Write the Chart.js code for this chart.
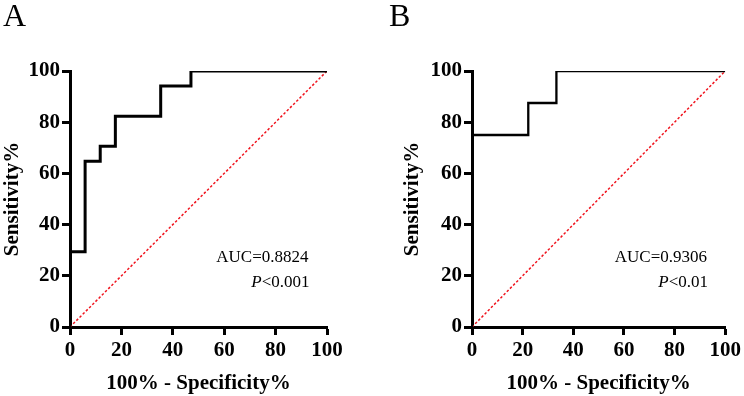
<!DOCTYPE html>
<html>
<head>
<meta charset="utf-8">
<script src="https://cdn.jsdelivr.net/npm/chart.js@4.4.0/dist/chart.umd.min.js"></script>
<style>
  html, body { margin: 0; padding: 0; background: #fff; }
  .wrap { display: flex; width: 744px; height: 396px; }
  canvas { display: block; }
</style>
</head>
<body>
<div class="wrap">
  <canvas id="rocA" width="372" height="396"></canvas>
  <canvas id="rocB" width="372" height="396"></canvas>
</div>
<script>
// ROC coordinates (100% - specificity, sensitivity)
const fprA = [0, 0, 5.88, 5.88, 11.76, 11.76, 17.65, 17.65, 35.29, 35.29, 47.06, 47.06, 100];
const tprA = [0, 29.41, 29.41, 64.71, 64.71, 70.59, 70.59, 82.35, 82.35, 94.12, 94.12, 100, 100];
const fprB = [0, 0, 22.22, 22.22, 33.33, 33.33, 100];
const tprB = [0, 75, 75, 87.5, 87.5, 100, 100];
const refLine = [0, 100];   // chance line

const axisMin = 0, axisMax = 100, axisStep = 20;
const xTitle = "100% - Specificity%";
const yTitle = "Sensitivity%";

const aucA = "AUC=0.8824", pA = "<0.001";
const aucB = "AUC=0.9306", pB = "<0.01";

const serif = "'Liberation Serif', 'Times New Roman', serif";

// panel letter + AUC / P text
const panelText = {
    id: "panelText",
    afterDraw(chart, args, opts) {
        const ctx = chart.ctx;
        const x = chart.scales.x, y = chart.scales.y;
        ctx.save();
        ctx.fillStyle = "#000";
        ctx.textBaseline = "alphabetic";
        ctx.font = "32px " + serif;
        ctx.textAlign = "left";
        ctx.fillText(opts.letter, opts.letterX, 26);

        const right = x.getPixelForValue(92.8);
        ctx.textBaseline = "middle";
        ctx.textAlign = "right";
        ctx.font = "17px " + serif;
        ctx.fillText(opts.auc, right, y.getPixelForValue(27));

        // P line, italic P
        const py = y.getPixelForValue(17.2);
        ctx.fillText(opts.p, right + 1, py);
        const w = ctx.measureText(opts.p).width;
        ctx.font = "italic 17px " + serif;
        ctx.fillText("P", right + 1 - w, py);

        ctx.restore();
    }
};

function axis(title, pad, afterFit) {
    return {
        type: "linear",
        min: axisMin,
        max: axisMax,
        ticks: {
            stepSize: axisStep,
            color: "#000",
            padding: pad,
            font: { family: serif, size: 21, weight: "bold" }
        },
        grid: {
            drawOnChartArea: false,
            tickLength: 8,
            tickWidth: 3,
            tickColor: "#000"
        },
        border: { color: "#000", width: 3 },
        title: {
            display: true,
            text: title,
            color: "#000",
            padding: 0,
            font: { family: serif, size: 21, weight: "bold" }
        },
        afterFit: afterFit
    };
}

function makeChart(id, fpr, tpr, lineW, pad, yWidth, text) {
    const ctx = document.getElementById(id).getContext("2d");
    return new Chart(ctx, {
        type: "scatter",
        data: {
            datasets: [
                {
                    data: fpr.map((v, i) => ({ x: v, y: tpr[i] })),
                    showLine: true,
                    borderColor: "#000",
                    borderWidth: lineW,
                    pointRadius: 0,
                    tension: 0,
                    clip: 0,
                    order: 1
                },
                {
                    data: refLine.map(v => ({ x: v, y: v })),
                    showLine: true,
                    borderColor: "#f0141e",
                    borderWidth: 1.5,
                    borderDash: [2.5, 2],
                    pointRadius: 0,
                    clip: 0,
                    order: 2
                }
            ]
        },
        options: {
            responsive: false,
            animation: false,
            layout: { padding: pad },
            plugins: {
                legend: { display: false },
                tooltip: { enabled: false },
                panelText: text
            },
            scales: {
                x: axis(xTitle, 3, s => { s.height = 69; }),
                y: axis(yTitle, 2, s => { s.width = yWidth; })
            }
        },
        plugins: [panelText]
    });
}

makeChart("rocA", fprA, tprA, 3, { top: 71, right: 45, left: 0, bottom: 0 }, 70,
    { letter: "A", letterX: 3, auc: aucA, p: pA });
makeChart("rocB", fprB, tprB, 2.3, { top: 71, right: 15, left: 28, bottom: 0 }, 72,
    { letter: "B", letterX: 17, auc: aucB, p: pB });
</script>
</body>
</html>
